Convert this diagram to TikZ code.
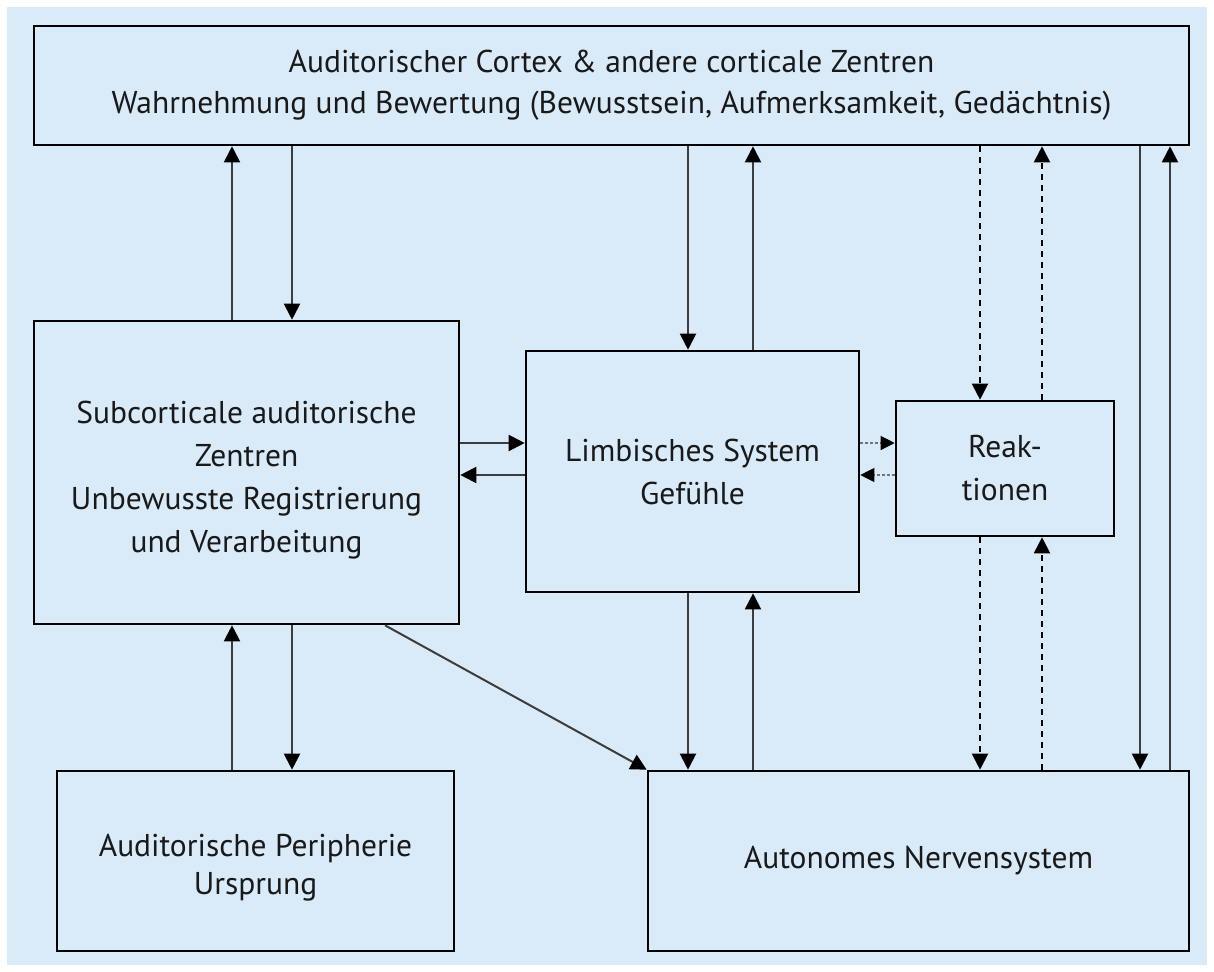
\documentclass[tikz,border=0pt]{standalone}
\usepackage{fontspec}
\setmainfont{PT Sans}
\usetikzlibrary{arrows.meta}
\definecolor{bg}{RGB}{217,234,248}
\definecolor{ln}{RGB}{60,60,60}
\tikzset{
  box/.style={draw=black, line width=2.6pt, fill=bg, align=center, inner sep=0pt,
    font=\fontsize{31.5}{43}\selectfont, text=black!90},
  arr/.style={draw=ln, line width=2pt, -{Triangle[width=16pt,length=16pt,color=black]}},
  darr/.style={arr, draw=black, dash pattern=on 6pt off 5pt},
  sarr/.style={draw=black!55, line width=1.2pt, dash pattern=on 3pt off 2pt, -{Triangle[width=14pt,length=14pt,color=black]}},
}
\begin{document}
\begin{tikzpicture}[x=1pt,y=-1pt]
\useasboundingbox (0,0) rectangle (1214,971);
\fill[white] (0,0) rectangle (1214,971);
\fill[bg] (7,7) rectangle (1207,965);

\node[box, minimum width=1155pt, minimum height=119pt] (top) at (611.5,85.5)
  {Auditorischer Cortex \& andere corticale Zentren\\[-2pt]Wahrnehmung und Bewertung (Bewusstsein, Aufmerksamkeit, Gedächtnis)};
\node[box, minimum width=425pt, minimum height=303pt] (sub) at (246.5,472.5)
  {\rule{0pt}{38pt}Subcorticale auditorische\\Zentren\\Unbewusste Registrierung\\und Verarbeitung};
\node[box, minimum width=333pt, minimum height=241pt] (lim) at (692.5,471.5)
  {Limbisches System\\Gefühle};
\node[box, minimum width=218pt, minimum height=135pt] (rea) at (1005,468.5)
  {Reak-\\tionen};
\node[box, minimum width=397pt, minimum height=180pt] (per) at (255.5,861)
  {\rule{0pt}{36pt}Auditorische Peripherie\\[-5pt]Ursprung};
\node[box, minimum width=541pt, minimum height=180pt] (ans) at (918.5,861)
  {Autonomes Nervensystem};

\coordinate (xa) at (232,0);
\coordinate (xb) at (292,0);
\coordinate (xc) at (688,0);
\coordinate (xd) at (753,0);
\coordinate (xe) at (980,0);
\coordinate (xf) at (1042,0);
\coordinate (xg) at (1140,0);
\coordinate (xh) at (1170,0);
\coordinate (ya) at (0,443);
\coordinate (yb) at (0,475);
\coordinate (dg) at (385,0);

% top <-> sub
\draw[arr] (sub.north -| xa) -- (top.south -| xa);
\draw[arr] (top.south -| xb) -- (sub.north -| xb);
% top <-> limbic
\draw[arr] (top.south -| xc) -- (lim.north -| xc);
\draw[arr] (lim.north -| xd) -- (top.south -| xd);
% top <-> reaktionen
\draw[darr] (top.south -| xe) -- (rea.north -| xe);
\draw[darr] (rea.north -| xf) -- (top.south -| xf);
% top <-> ans
\draw[arr] (top.south -| xg) -- (ans.north -| xg);
\draw[arr] (ans.north -| xh) -- (top.south -| xh);
% sub <-> limbic
\draw[arr] (sub.east |- ya) -- (lim.west |- ya);
\draw[arr] (lim.west |- yb) -- (sub.east |- yb);
% limbic <-> reaktionen
\draw[sarr] (lim.east |- ya) -- (rea.west |- ya);
\draw[sarr] (rea.west |- yb) -- (lim.east |- yb);
% reaktionen <-> ans
\draw[darr] (rea.south -| xe) -- (ans.north -| xe);
\draw[darr] (ans.north -| xf) -- (rea.south -| xf);
% limbic <-> ans
\draw[arr] (lim.south -| xc) -- (ans.north -| xc);
\draw[arr] (ans.north -| xd) -- (lim.south -| xd);
% sub <-> peripherie
\draw[arr] (per.north -| xa) -- (sub.south -| xa);
\draw[arr] (sub.south -| xb) -- (per.north -| xb);
% sub -> ans diagonal
\draw[arr] (sub.south -| dg) -- (ans.north west);
\end{tikzpicture}
\end{document}
